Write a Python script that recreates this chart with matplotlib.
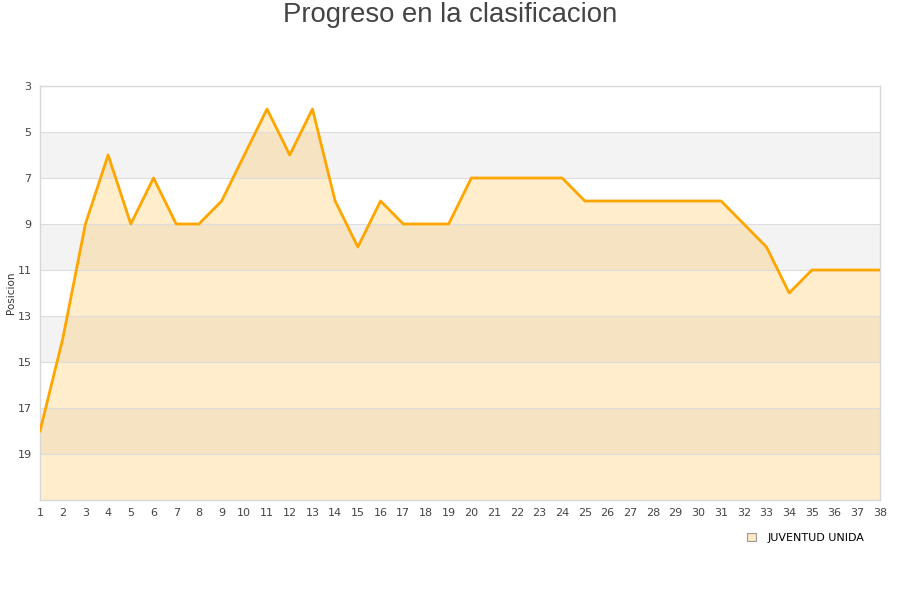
import numpy as np
import matplotlib
matplotlib.use("Agg")
import matplotlib.pyplot as plt
from matplotlib.patches import Patch

# jornadas y posiciones
jornadas = list(range(1, 39))
posiciones = [18, 14, 9, 6, 9, 7, 9, 9, 8, 6,
              4, 6, 4, 8, 10, 8, 9, 9, 9, 7,
              7, 7, 7, 7, 8, 8, 8, 8, 8, 8,
              8, 9, 10, 12, 11, 11, 11, 11]
y_ticks = [3, 5, 7, 9, 11, 13, 15, 17, 19]
equipo = "JUVENTUD UNIDA"
titulo = "Progreso en la clasificacion"

fig = plt.figure(figsize=(9, 6), dpi=100)
ax = fig.add_axes([40 / 900, 100 / 600, 840 / 900, 414 / 600])

# bandas alternas grises
for lo in range(5, 21, 4):
    ax.axhspan(lo, lo + 2, color="#f3f3f3", zorder=0, lw=0)

ax.fill_between(jornadas, posiciones, 21, color="#ffa500", alpha=0.2,
                lw=0, zorder=1)
ax.plot(jornadas, posiciones, color="#ffa500", lw=2.0, zorder=3)

ax.set_xlim(1, 38)
ax.set_ylim(21, 3)
ax.set_xticks(jornadas)
ax.set_yticks(y_ticks)
ax.grid(axis="y", color="#dddddd", lw=0.8, zorder=2)
ax.tick_params(length=0, labelsize=8, colors="#444444", pad=6)
for s in ax.spines.values():
    s.set_color("#d8d8d8")
    s.set_linewidth(1)

fig.text(11 / 900, 1 - 293 / 600, "Posicion", rotation=90, ha="center",
         va="center", fontsize=7.5, color="#333333")
fig.text(0.5, 1 - 15 / 600, titulo, ha="center", va="center", fontsize=19.8,
         color="#444444", family="Liberation Sans")

handle = Patch(facecolor="#ffe8c4", edgecolor="#999999", lw=0.8)
ax.legend([handle], [equipo], loc="upper right", bbox_to_anchor=(0.993, -0.055),
          frameon=False, fontsize=8, handlelength=0.8, handleheight=0.8,
          handletextpad=1.0)

fig.savefig("out.png", dpi=100)
